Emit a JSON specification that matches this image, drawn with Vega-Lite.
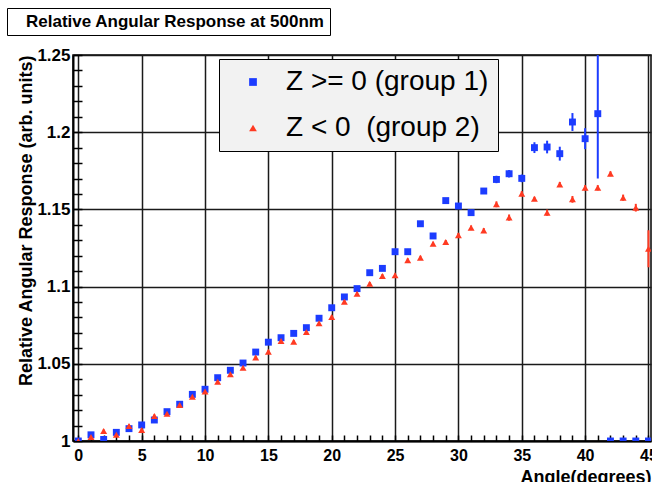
{
  "$schema": "https://vega.github.io/schema/vega-lite/v6.json",
  "padding": {"left": 6, "top": 7, "right": 0, "bottom": 0},
  "width": 578,
  "height": 386,
  "config": {
    "font": "Liberation Sans",
    "view": {"stroke": "black", "strokeWidth": 1.5},
    "axis": {
      "domainColor": "black", "domainWidth": 2,
      "gridColor": "#1a1a1a", "gridWidth": 1.5,
      "tickColor": "black", "tickWidth": 1.5,
      "labelColor": "black", "titleColor": "black",
      "labelFont": "Liberation Sans", "titleFont": "Liberation Sans",
      "labelFontWeight": "bold", "titleFontWeight": "bold"
    }
  },
  "layer": [
    {
      "data": {"values": [{"t": "Relative Angular Response at 500nm"}]},
      "mark": {"type": "point", "opacity": 0},
      "encoding": {
        "strokeDash": {
          "field": "t", "type": "nominal",
          "scale": {"domain": ["Relative Angular Response at 500nm"]},
          "legend": {
            "orient": "none", "legendX": -66, "legendY": -47, "title": null,
            "fillColor": "white", "strokeColor": "black", "padding": 5,
            "labelFontSize": 17, "labelFont": "Liberation Sans", "labelFontWeight": "bold", "labelColor": "black", "labelLimit": 400,
            "labelExpr": "datum.label + '\u00a0\u00a0\u00a0\u00a0'",
            "symbolSize": 1, "symbolOpacity": 0, "symbolStrokeWidth": 0, "symbolOffset": -3, "labelOffset": 0
          }
        }
      }
    },
    {
      "data": {"values": [
        {"a": 0, "v": 1.000, "lo": 0.999, "hi": 1.001, "g": "Z >= 0 (group 1)"},
        {"a": 1, "v": 1.004, "lo": 1.003, "hi": 1.005, "g": "Z >= 0 (group 1)"},
        {"a": 2, "v": 1.001, "lo": 1.000, "hi": 1.002, "g": "Z >= 0 (group 1)"},
        {"a": 3, "v": 1.0056, "lo": 1.0046, "hi": 1.0066, "g": "Z >= 0 (group 1)"},
        {"a": 4, "v": 1.008, "lo": 1.007, "hi": 1.009, "g": "Z >= 0 (group 1)"},
        {"a": 5, "v": 1.0104, "lo": 1.0094, "hi": 1.0114, "g": "Z >= 0 (group 1)"},
        {"a": 6, "v": 1.0136, "lo": 1.0126, "hi": 1.0146, "g": "Z >= 0 (group 1)"},
        {"a": 7, "v": 1.019, "lo": 1.018, "hi": 1.020, "g": "Z >= 0 (group 1)"},
        {"a": 8, "v": 1.0238, "lo": 1.0228, "hi": 1.0248, "g": "Z >= 0 (group 1)"},
        {"a": 9, "v": 1.0302, "lo": 1.0292, "hi": 1.0312, "g": "Z >= 0 (group 1)"},
        {"a": 10, "v": 1.0335, "lo": 1.0325, "hi": 1.0345, "g": "Z >= 0 (group 1)"},
        {"a": 11, "v": 1.041, "lo": 1.040, "hi": 1.042, "g": "Z >= 0 (group 1)"},
        {"a": 12, "v": 1.0458, "lo": 1.0448, "hi": 1.0468, "g": "Z >= 0 (group 1)"},
        {"a": 13, "v": 1.0505, "lo": 1.0495, "hi": 1.0515, "g": "Z >= 0 (group 1)"},
        {"a": 14, "v": 1.0576, "lo": 1.0566, "hi": 1.0586, "g": "Z >= 0 (group 1)"},
        {"a": 15, "v": 1.064, "lo": 1.063, "hi": 1.065, "g": "Z >= 0 (group 1)"},
        {"a": 16, "v": 1.0669, "lo": 1.0659, "hi": 1.0679, "g": "Z >= 0 (group 1)"},
        {"a": 17, "v": 1.0697, "lo": 1.0687, "hi": 1.0707, "g": "Z >= 0 (group 1)"},
        {"a": 18, "v": 1.0734, "lo": 1.0724, "hi": 1.0744, "g": "Z >= 0 (group 1)"},
        {"a": 19, "v": 1.0795, "lo": 1.0783, "hi": 1.0807, "g": "Z >= 0 (group 1)"},
        {"a": 20, "v": 1.0863, "lo": 1.0851, "hi": 1.0875, "g": "Z >= 0 (group 1)"},
        {"a": 21, "v": 1.0933, "lo": 1.0921, "hi": 1.0945, "g": "Z >= 0 (group 1)"},
        {"a": 22, "v": 1.0987, "lo": 1.0975, "hi": 1.0999, "g": "Z >= 0 (group 1)"},
        {"a": 23, "v": 1.109, "lo": 1.1078, "hi": 1.1102, "g": "Z >= 0 (group 1)"},
        {"a": 24, "v": 1.1118, "lo": 1.1103, "hi": 1.1133, "g": "Z >= 0 (group 1)"},
        {"a": 25, "v": 1.1226, "lo": 1.1211, "hi": 1.1241, "g": "Z >= 0 (group 1)"},
        {"a": 26, "v": 1.1226, "lo": 1.1208, "hi": 1.1244, "g": "Z >= 0 (group 1)"},
        {"a": 27, "v": 1.1407, "lo": 1.1389, "hi": 1.1425, "g": "Z >= 0 (group 1)"},
        {"a": 28, "v": 1.1328, "lo": 1.131, "hi": 1.1346, "g": "Z >= 0 (group 1)"},
        {"a": 29, "v": 1.1557, "lo": 1.1542, "hi": 1.1572, "g": "Z >= 0 (group 1)"},
        {"a": 30, "v": 1.1522, "lo": 1.1507, "hi": 1.1537, "g": "Z >= 0 (group 1)"},
        {"a": 31, "v": 1.1479, "lo": 1.1464, "hi": 1.1494, "g": "Z >= 0 (group 1)"},
        {"a": 32, "v": 1.1619, "lo": 1.1602, "hi": 1.1636, "g": "Z >= 0 (group 1)"},
        {"a": 33, "v": 1.1694, "lo": 1.167, "hi": 1.1718, "g": "Z >= 0 (group 1)"},
        {"a": 34, "v": 1.1731, "lo": 1.1707, "hi": 1.1755, "g": "Z >= 0 (group 1)"},
        {"a": 35, "v": 1.1701, "lo": 1.1676, "hi": 1.1726, "g": "Z >= 0 (group 1)"},
        {"a": 36, "v": 1.19, "lo": 1.1865, "hi": 1.1935, "g": "Z >= 0 (group 1)"},
        {"a": 37, "v": 1.1904, "lo": 1.1863, "hi": 1.1945, "g": "Z >= 0 (group 1)"},
        {"a": 38, "v": 1.1861, "lo": 1.1816, "hi": 1.1906, "g": "Z >= 0 (group 1)"},
        {"a": 39, "v": 1.2066, "lo": 1.2008, "hi": 1.2124, "g": "Z >= 0 (group 1)"},
        {"a": 40, "v": 1.1958, "lo": 1.189, "hi": 1.2026, "g": "Z >= 0 (group 1)"},
        {"a": 41, "v": 1.212, "lo": 1.170, "hi": 1.254, "g": "Z >= 0 (group 1)"},
        {"a": 42, "v": 1.0, "lo": 1.0, "hi": 1.0, "g": "Z >= 0 (group 1)"},
        {"a": 43, "v": 1.0, "lo": 1.0, "hi": 1.0, "g": "Z >= 0 (group 1)"},
        {"a": 44, "v": 1.0, "lo": 1.0, "hi": 1.0, "g": "Z >= 0 (group 1)"},
        {"a": 45, "v": 1.0, "lo": 1.0, "hi": 1.0, "g": "Z >= 0 (group 1)"},
        {"a": 0, "v": 1.000, "lo": 0.999, "hi": 1.001, "g": "Z < 0\u00a0 (group 2)"},
        {"a": 1, "v": 1.0026, "lo": 1.0016, "hi": 1.0036, "g": "Z < 0\u00a0 (group 2)"},
        {"a": 2, "v": 1.0065, "lo": 1.0055, "hi": 1.0075, "g": "Z < 0\u00a0 (group 2)"},
        {"a": 3, "v": 1.004, "lo": 1.003, "hi": 1.005, "g": "Z < 0\u00a0 (group 2)"},
        {"a": 4, "v": 1.0097, "lo": 1.0087, "hi": 1.0107, "g": "Z < 0\u00a0 (group 2)"},
        {"a": 5, "v": 1.0071, "lo": 1.0061, "hi": 1.0081, "g": "Z < 0\u00a0 (group 2)"},
        {"a": 6, "v": 1.0162, "lo": 1.0152, "hi": 1.0172, "g": "Z < 0\u00a0 (group 2)"},
        {"a": 7, "v": 1.0177, "lo": 1.0167, "hi": 1.0187, "g": "Z < 0\u00a0 (group 2)"},
        {"a": 8, "v": 1.0233, "lo": 1.0223, "hi": 1.0243, "g": "Z < 0\u00a0 (group 2)"},
        {"a": 9, "v": 1.0287, "lo": 1.0277, "hi": 1.0297, "g": "Z < 0\u00a0 (group 2)"},
        {"a": 10, "v": 1.032, "lo": 1.031, "hi": 1.033, "g": "Z < 0\u00a0 (group 2)"},
        {"a": 11, "v": 1.0384, "lo": 1.0374, "hi": 1.0394, "g": "Z < 0\u00a0 (group 2)"},
        {"a": 12, "v": 1.0432, "lo": 1.0422, "hi": 1.0442, "g": "Z < 0\u00a0 (group 2)"},
        {"a": 13, "v": 1.0475, "lo": 1.0465, "hi": 1.0485, "g": "Z < 0\u00a0 (group 2)"},
        {"a": 14, "v": 1.054, "lo": 1.053, "hi": 1.055, "g": "Z < 0\u00a0 (group 2)"},
        {"a": 15, "v": 1.0578, "lo": 1.0568, "hi": 1.0588, "g": "Z < 0\u00a0 (group 2)"},
        {"a": 16, "v": 1.0648, "lo": 1.0638, "hi": 1.0658, "g": "Z < 0\u00a0 (group 2)"},
        {"a": 17, "v": 1.0643, "lo": 1.0633, "hi": 1.0653, "g": "Z < 0\u00a0 (group 2)"},
        {"a": 18, "v": 1.0706, "lo": 1.0696, "hi": 1.0716, "g": "Z < 0\u00a0 (group 2)"},
        {"a": 19, "v": 1.0762, "lo": 1.0751, "hi": 1.0773, "g": "Z < 0\u00a0 (group 2)"},
        {"a": 20, "v": 1.0803, "lo": 1.0792, "hi": 1.0814, "g": "Z < 0\u00a0 (group 2)"},
        {"a": 21, "v": 1.0902, "lo": 1.0891, "hi": 1.0913, "g": "Z < 0\u00a0 (group 2)"},
        {"a": 22, "v": 1.0954, "lo": 1.0943, "hi": 1.0965, "g": "Z < 0\u00a0 (group 2)"},
        {"a": 23, "v": 1.1019, "lo": 1.1008, "hi": 1.103, "g": "Z < 0\u00a0 (group 2)"},
        {"a": 24, "v": 1.1069, "lo": 1.1057, "hi": 1.1081, "g": "Z < 0\u00a0 (group 2)"},
        {"a": 25, "v": 1.1073, "lo": 1.1061, "hi": 1.1085, "g": "Z < 0\u00a0 (group 2)"},
        {"a": 26, "v": 1.117, "lo": 1.1157, "hi": 1.1183, "g": "Z < 0\u00a0 (group 2)"},
        {"a": 27, "v": 1.1187, "lo": 1.1174, "hi": 1.12, "g": "Z < 0\u00a0 (group 2)"},
        {"a": 28, "v": 1.1278, "lo": 1.1265, "hi": 1.1291, "g": "Z < 0\u00a0 (group 2)"},
        {"a": 29, "v": 1.1289, "lo": 1.1276, "hi": 1.1302, "g": "Z < 0\u00a0 (group 2)"},
        {"a": 30, "v": 1.1332, "lo": 1.1317, "hi": 1.1347, "g": "Z < 0\u00a0 (group 2)"},
        {"a": 31, "v": 1.1381, "lo": 1.1366, "hi": 1.1396, "g": "Z < 0\u00a0 (group 2)"},
        {"a": 32, "v": 1.1364, "lo": 1.1349, "hi": 1.1379, "g": "Z < 0\u00a0 (group 2)"},
        {"a": 33, "v": 1.1533, "lo": 1.1514, "hi": 1.1552, "g": "Z < 0\u00a0 (group 2)"},
        {"a": 34, "v": 1.1447, "lo": 1.1427, "hi": 1.1467, "g": "Z < 0\u00a0 (group 2)"},
        {"a": 35, "v": 1.1602, "lo": 1.1586, "hi": 1.1618, "g": "Z < 0\u00a0 (group 2)"},
        {"a": 36, "v": 1.1569, "lo": 1.1556, "hi": 1.1582, "g": "Z < 0\u00a0 (group 2)"},
        {"a": 37, "v": 1.1479, "lo": 1.1459, "hi": 1.1499, "g": "Z < 0\u00a0 (group 2)"},
        {"a": 38, "v": 1.1662, "lo": 1.1646, "hi": 1.1678, "g": "Z < 0\u00a0 (group 2)"},
        {"a": 39, "v": 1.1565, "lo": 1.1543, "hi": 1.1587, "g": "Z < 0\u00a0 (group 2)"},
        {"a": 40, "v": 1.164, "lo": 1.1623, "hi": 1.1657, "g": "Z < 0\u00a0 (group 2)"},
        {"a": 41, "v": 1.164, "lo": 1.1623, "hi": 1.1657, "g": "Z < 0\u00a0 (group 2)"},
        {"a": 42, "v": 1.1731, "lo": 1.1715, "hi": 1.1747, "g": "Z < 0\u00a0 (group 2)"},
        {"a": 43, "v": 1.1576, "lo": 1.1556, "hi": 1.1596, "g": "Z < 0\u00a0 (group 2)"},
        {"a": 44, "v": 1.1511, "lo": 1.1486, "hi": 1.1536, "g": "Z < 0\u00a0 (group 2)"},
        {"a": 45, "v": 1.1245, "lo": 1.1125, "hi": 1.1365, "g": "Z < 0\u00a0 (group 2)"}
      ]},
      "encoding": {
        "x": {
          "field": "a", "type": "quantitative",
          "scale": {"domain": [-0.42, 45.2], "nice": false, "zero": false},
          "axis": {
            "values": [0,1,2,3,4,5,6,7,8,9,10,11,12,13,14,15,16,17,18,19,20,21,22,23,24,25,26,27,28,29,30,31,32,33,34,35,36,37,38,39,40,41,42,43,44,45],
            "labelExpr": "datum.value % 5 === 0 ? format(datum.value, 'd') : ''",
            "labelFlush": false, "labelOverlap": false,
            "tickSize": -6, "labelPadding": 12, "labelFontSize": 16,
            "title": "Angle(degrees)", "titleAnchor": "end", "titleFontSize": 18, "titlePadding": 5,
            "grid": true,
            "gridOpacity": {"condition": {"test": "datum.value % 5 === 0", "value": 1}, "value": 0}
          }
        }
      },
      "layer": [
        {
          "mark": {"type": "rule", "strokeWidth": 2, "clip": true},
          "encoding": {
            "y": {
              "field": "lo", "type": "quantitative",
              "scale": {"domain": [1, 1.25], "nice": false, "zero": false},
              "axis": {
                "values": [1,1.01,1.02,1.03,1.04,1.05,1.06,1.07,1.08,1.09,1.1,1.11,1.12,1.13,1.14,1.15,1.16,1.17,1.18,1.19,1.2,1.21,1.22,1.23,1.24,1.25],
                "labelExpr": "round(datum.value * 100) % 5 === 0 ? format(datum.value, '.3~g') : ''",
                "labelOverlap": false,
                "tickSize": -9, "labelPadding": 12, "labelFontSize": 17,
                "title": "Relative Angular Response (arb. units)",
                "titleAnchor": "end", "titleFontSize": 18, "titlePadding": 1,
                "grid": true,
                "gridOpacity": {"condition": {"test": "round(datum.value * 100) % 5 === 0", "value": 1}, "value": 0}
              }
            },
            "y2": {"field": "hi"},
            "color": {"field": "g", "type": "nominal", "scale": {"domain": ["Z >= 0 (group 1)", "Z < 0\u00a0 (group 2)"], "range": ["#1c3cff", "#ff3a22"]}}
          }
        },
        {
          "mark": {"type": "point", "filled": true, "opacity": 1, "clip": true, "size": 48},
          "encoding": {
            "y": {
              "field": "v", "type": "quantitative",
              "scale": {"domain": [1, 1.25], "nice": false, "zero": false},
              "axis": {
                "values": [1,1.01,1.02,1.03,1.04,1.05,1.06,1.07,1.08,1.09,1.1,1.11,1.12,1.13,1.14,1.15,1.16,1.17,1.18,1.19,1.2,1.21,1.22,1.23,1.24,1.25],
                "labelExpr": "round(datum.value * 100) % 5 === 0 ? format(datum.value, '.3~g') : ''",
                "labelOverlap": false,
                "tickSize": -9, "labelPadding": 12, "labelFontSize": 17,
                "title": "Relative Angular Response (arb. units)",
                "titleAnchor": "end", "titleFontSize": 18, "titlePadding": 1,
                "grid": true,
                "gridOpacity": {"condition": {"test": "round(datum.value * 100) % 5 === 0", "value": 1}, "value": 0}
              }
            },
            "color": {
              "field": "g", "type": "nominal",
              "scale": {"domain": ["Z >= 0 (group 1)", "Z < 0\u00a0 (group 2)"], "range": ["#1c3cff", "#ff3a22"]},
              "legend": {
                "orient": "none", "legendX": 146, "legendY": 4, "title": null,
                "fillColor": "#f2f2f2", "strokeColor": "black", "padding": 9,
                "labelFontSize": 28, "labelFont": "Liberation Sans", "labelColor": "black", "labelLimit": 400,
                "symbolSize": 60, "symbolOffset": 11, "labelOffset": 19, "rowPadding": 18,
                "symbolStrokeWidth": 0
              }
            },
            "shape": {
              "field": "g", "type": "nominal",
              "scale": {"domain": ["Z >= 0 (group 1)", "Z < 0\u00a0 (group 2)"], "range": ["square", "triangle-up"]}
            }
          }
        }
      ]
    }
  ]
}
